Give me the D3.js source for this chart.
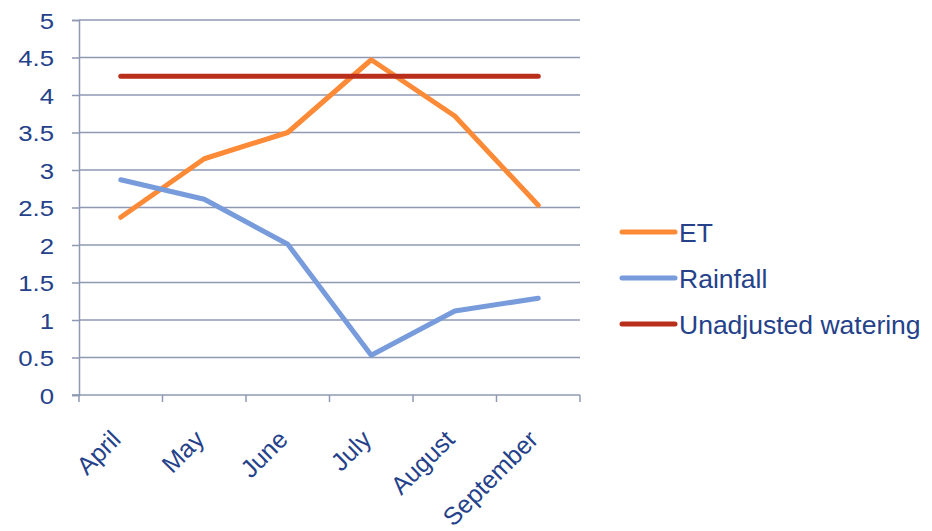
<!DOCTYPE html>
<html>
<head>
<meta charset="utf-8">
<script src="https://cdn.jsdelivr.net/npm/d3@7"></script>
<style>
  html, body { margin: 0; padding: 0; background: #fff; }
  svg text { font-family: "Liberation Sans", Arial, sans-serif; fill: #24418A; }
</style>
</head>
<body>
<svg id="chart" width="932" height="531"></svg>
<script>
// Monthly water balance (inches)
const months = ["April", "May", "June", "July", "August", "September"];
const et = [2.37, 3.15, 3.5, 4.47, 3.72, 2.53];
const rainfall = [2.87, 2.61, 2.01, 0.53, 1.12, 1.29];
const unadjusted = [4.25, 4.25, 4.25, 4.25, 4.25, 4.25];
const yTicks = [0, 0.5, 1, 1.5, 2, 2.5, 3, 3.5, 4, 4.5, 5];
const seriesNames = ["ET", "Rainfall", "Unadjusted watering"];
const seriesColors = ["#FD8A36", "#779BDB", "#B92F1C"];

const series = [et, rainfall, unadjusted];

const svg = d3.select("#chart");
const plot = { left: 79, right: 580, top: 20, bottom: 395 };
const gridColor = "#8F99B3";

const x = d3.scaleBand().domain(months).range([plot.left, plot.right]);
const y = d3.scaleLinear().domain([0, 5]).range([plot.bottom, plot.top]);

// horizontal gridlines
svg.append("g")
  .selectAll("line")
  .data(yTicks.filter(d => d > 0))
  .join("line")
  .attr("x1", plot.left).attr("x2", plot.right)
  .attr("y1", d => y(d)).attr("y2", d => y(d))
  .attr("stroke", gridColor).attr("stroke-width", 1.5);

// y axis (labels drawn slightly wide)
const yAxis = svg.append("g")
  .attr("transform", `translate(${plot.left},0)`)
  .call(d3.axisLeft(y).tickValues(yTicks).tickSize(7)
    .tickFormat(d => String(d)));
yAxis.select(".domain").attr("stroke", gridColor).attr("stroke-width", 1.5);
yAxis.selectAll(".tick line").attr("stroke", gridColor).attr("stroke-width", 1.5);
yAxis.selectAll(".tick text")
  .attr("x", 0)
  .attr("dy", "0.38em")
  .attr("font-size", 22)
  .attr("fill", "#24418A")
  .attr("transform", "translate(-25,0) scale(1.17,1)");

// x axis with ticks at category boundaries
const xAxisG = svg.append("g");
xAxisG.append("line")
  .attr("x1", plot.left - 7).attr("x2", plot.right)
  .attr("y1", plot.bottom).attr("y2", plot.bottom)
  .attr("stroke", gridColor).attr("stroke-width", 1.5);
const boundaries = months.map(m => x(m)).concat([x.range()[1]]);
xAxisG.selectAll("line.tk")
  .data(boundaries)
  .join("line")
  .attr("class", "tk")
  .attr("x1", d => d).attr("x2", d => d)
  .attr("y1", plot.bottom).attr("y2", plot.bottom + 7)
  .attr("stroke", gridColor).attr("stroke-width", 1.5);
xAxisG.selectAll("text")
  .data(months)
  .join("text")
  .attr("text-anchor", "end")
  .attr("font-size", 25)
  .attr("transform", d => `translate(${x(d) + x.bandwidth() / 2 + 1.5},${plot.bottom + 46}) rotate(-45)`)
  .text(d => d);

// series lines
const line = d3.line()
  .x((d, i) => x(months[i]) + x.bandwidth() / 2)
  .y(d => y(d));

svg.append("g")
  .selectAll("path")
  .data(series)
  .join("path")
  .attr("d", d => line(d))
  .attr("fill", "none")
  .attr("stroke", (d, i) => seriesColors[i])
  .attr("stroke-width", 5)
  .attr("stroke-linecap", "round")
  .attr("stroke-linejoin", "round");

// legend
const legend = svg.append("g");
const legendY = [232, 278, 324];
seriesNames.forEach((name, i) => {
  legend.append("line")
    .attr("x1", 622).attr("x2", 675)
    .attr("y1", legendY[i]).attr("y2", legendY[i])
    .attr("stroke", seriesColors[i]).attr("stroke-width", 5)
    .attr("stroke-linecap", "round");
  legend.append("text")
    .attr("x", 679).attr("y", legendY[i] + 10)
    .attr("font-size", 26.5)
    .text(name);
});
</script>
</body>
</html>
